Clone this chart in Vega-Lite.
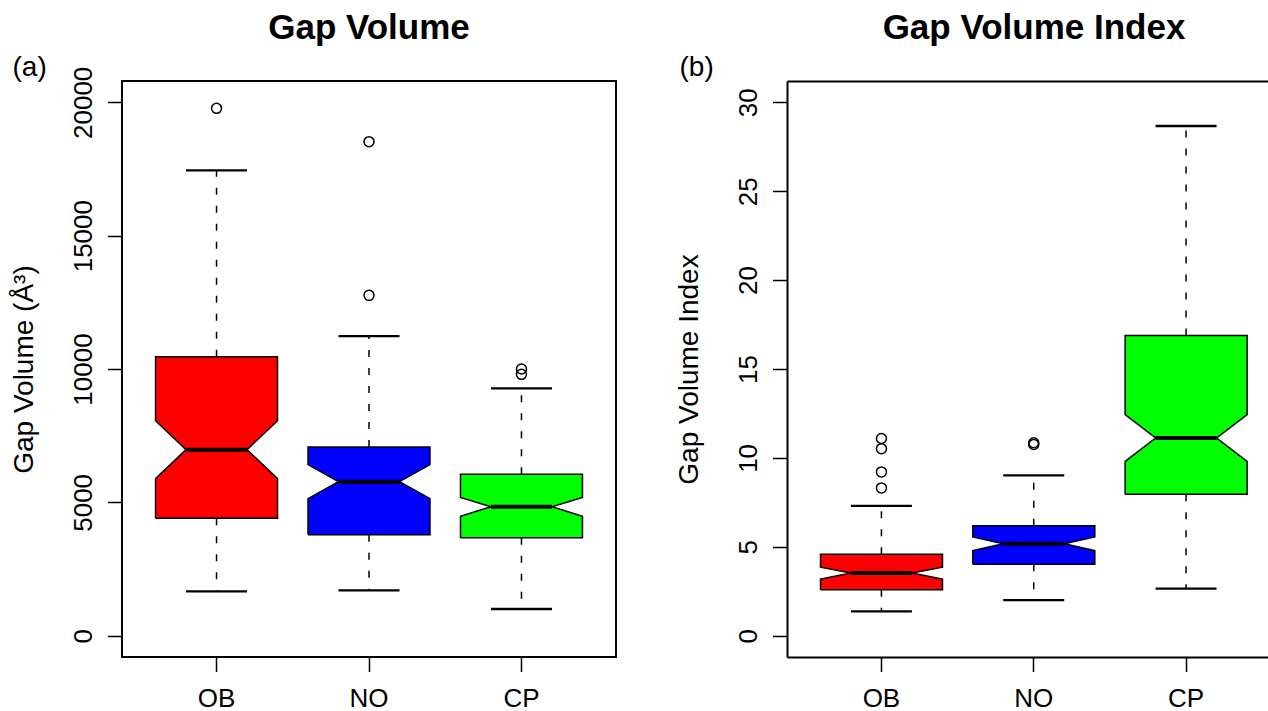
{
  "$schema": "https://vega.github.io/schema/vega-lite/v6.json",
  "padding": {"left": 9, "top": 10, "right": 0, "bottom": 0},
  "bounds": "flush",
  "spacing": 171,
  "config": {
    "font": "Liberation Sans",
    "view": {"stroke": "black", "strokeWidth": 2},
    "axis": {
      "labelFont": "Liberation Sans", "titleFont": "Liberation Sans",
      "labelColor": "black", "titleColor": "black", "tickColor": "black",
      "tickWidth": 1.5, "tickSize": 14.5, "grid": false, "domain": false,
      "labelFontSize": 26, "titleFontSize": 28, "titleFontWeight": "normal",
      "labelOverlap": false, "labelBound": false, "labelFlush": false
    }
  },
  "datasets": {
    "box": [
      {"p":"a","g":"OB","o":1,"e":"L","v":4399},{"p":"a","g":"OB","o":2,"e":"L","v":5887},{"p":"a","g":"OB","o":3,"e":"NL","v":6975},{"p":"a","g":"OB","o":4,"e":"L","v":8062},{"p":"a","g":"OB","o":5,"e":"L","v":10462},{"p":"a","g":"OB","o":6,"e":"R","v":10462},{"p":"a","g":"OB","o":7,"e":"R","v":8062},{"p":"a","g":"OB","o":8,"e":"NR","v":6975},{"p":"a","g":"OB","o":9,"e":"R","v":5887},{"p":"a","g":"OB","o":10,"e":"R","v":4399},{"p":"a","g":"OB","o":11,"e":"L","v":4399},
      {"p":"a","g":"NO","o":1,"e":"L","v":3787},{"p":"a","g":"NO","o":2,"e":"L","v":5137},{"p":"a","g":"NO","o":3,"e":"NL","v":5775},{"p":"a","g":"NO","o":4,"e":"L","v":6412},{"p":"a","g":"NO","o":5,"e":"L","v":7074},{"p":"a","g":"NO","o":6,"e":"R","v":7074},{"p":"a","g":"NO","o":7,"e":"R","v":6412},{"p":"a","g":"NO","o":8,"e":"NR","v":5775},{"p":"a","g":"NO","o":9,"e":"R","v":5137},{"p":"a","g":"NO","o":10,"e":"R","v":3787},{"p":"a","g":"NO","o":11,"e":"L","v":3787},
      {"p":"a","g":"CP","o":1,"e":"L","v":3674},{"p":"a","g":"CP","o":2,"e":"L","v":4474},{"p":"a","g":"CP","o":3,"e":"NL","v":4837},{"p":"a","g":"CP","o":4,"e":"L","v":5186},{"p":"a","g":"CP","o":5,"e":"L","v":6049},{"p":"a","g":"CP","o":6,"e":"R","v":6049},{"p":"a","g":"CP","o":7,"e":"R","v":5186},{"p":"a","g":"CP","o":8,"e":"NR","v":4837},{"p":"a","g":"CP","o":9,"e":"R","v":4474},{"p":"a","g":"CP","o":10,"e":"R","v":3674},{"p":"a","g":"CP","o":11,"e":"L","v":3674},
      {"p":"b","g":"OB","o":1,"e":"L","v":2.58},{"p":"b","g":"OB","o":2,"e":"L","v":3.18},{"p":"b","g":"OB","o":3,"e":"NL","v":3.52},{"p":"b","g":"OB","o":4,"e":"L","v":3.85},{"p":"b","g":"OB","o":5,"e":"L","v":4.58},{"p":"b","g":"OB","o":6,"e":"R","v":4.58},{"p":"b","g":"OB","o":7,"e":"R","v":3.85},{"p":"b","g":"OB","o":8,"e":"NR","v":3.52},{"p":"b","g":"OB","o":9,"e":"R","v":3.18},{"p":"b","g":"OB","o":10,"e":"R","v":2.58},{"p":"b","g":"OB","o":11,"e":"L","v":2.58},
      {"p":"b","g":"NO","o":1,"e":"L","v":4.02},{"p":"b","g":"NO","o":2,"e":"L","v":4.78},{"p":"b","g":"NO","o":3,"e":"NL","v":5.17},{"p":"b","g":"NO","o":4,"e":"L","v":5.55},{"p":"b","g":"NO","o":5,"e":"L","v":6.18},{"p":"b","g":"NO","o":6,"e":"R","v":6.18},{"p":"b","g":"NO","o":7,"e":"R","v":5.55},{"p":"b","g":"NO","o":8,"e":"NR","v":5.17},{"p":"b","g":"NO","o":9,"e":"R","v":4.78},{"p":"b","g":"NO","o":10,"e":"R","v":4.02},{"p":"b","g":"NO","o":11,"e":"L","v":4.02},
      {"p":"b","g":"CP","o":1,"e":"L","v":7.96},{"p":"b","g":"CP","o":2,"e":"L","v":9.8},{"p":"b","g":"CP","o":3,"e":"NL","v":11.12},{"p":"b","g":"CP","o":4,"e":"L","v":12.44},{"p":"b","g":"CP","o":5,"e":"L","v":16.89},{"p":"b","g":"CP","o":6,"e":"R","v":16.89},{"p":"b","g":"CP","o":7,"e":"R","v":12.44},{"p":"b","g":"CP","o":8,"e":"NR","v":11.12},{"p":"b","g":"CP","o":9,"e":"R","v":9.8},{"p":"b","g":"CP","o":10,"e":"R","v":7.96},{"p":"b","g":"CP","o":11,"e":"L","v":7.96}
    ],
    "whisk": [
      {"p":"a","g":"OB","v":4399,"v2":1661},{"p":"a","g":"OB","v":10462,"v2":17449},
      {"p":"a","g":"NO","v":3787,"v2":1699},{"p":"a","g":"NO","v":7074,"v2":11235},
      {"p":"a","g":"CP","v":3674,"v2":1000},{"p":"a","g":"CP","v":6049,"v2":9274},
      {"p":"b","g":"OB","v":2.58,"v2":1.37},{"p":"b","g":"OB","v":4.58,"v2":7.30},
      {"p":"b","g":"NO","v":4.02,"v2":2.0},{"p":"b","g":"NO","v":6.18,"v2":9.02},
      {"p":"b","g":"CP","v":7.96,"v2":2.65},{"p":"b","g":"CP","v":16.89,"v2":28.67}
    ],
    "cap": [
      {"p":"a","g":"OB","v":1661},{"p":"a","g":"OB","v":17449},
      {"p":"a","g":"NO","v":1699},{"p":"a","g":"NO","v":11235},
      {"p":"a","g":"CP","v":1000},{"p":"a","g":"CP","v":9274},
      {"p":"b","g":"OB","v":1.37},{"p":"b","g":"OB","v":7.30},
      {"p":"b","g":"NO","v":2.0},{"p":"b","g":"NO","v":9.02},
      {"p":"b","g":"CP","v":2.65},{"p":"b","g":"CP","v":28.67}
    ],
    "med": [
      {"p":"a","g":"OB","v":6975},{"p":"a","g":"NO","v":5775},{"p":"a","g":"CP","v":4837},
      {"p":"b","g":"OB","v":3.52},{"p":"b","g":"NO","v":5.17},{"p":"b","g":"CP","v":11.12}
    ],
    "out": [
      {"p":"a","g":"OB","v":19774},{"p":"a","g":"NO","v":12761},{"p":"a","g":"NO","v":18525},
      {"p":"a","g":"CP","v":9799},{"p":"a","g":"CP","v":9998},
      {"p":"b","g":"OB","v":8.31},{"p":"b","g":"OB","v":9.21},{"p":"b","g":"OB","v":10.52},{"p":"b","g":"OB","v":11.09},
      {"p":"b","g":"NO","v":10.75},{"p":"b","g":"NO","v":10.85}
    ]
  },
  "hconcat": [
    {
      "width": 494,
      "height": 576,
      "title": {"text": "Gap Volume", "fontSize": 35, "fontWeight": "bold", "font": "Liberation Sans", "color": "black", "anchor": "middle", "frame": "group", "offset": -21, "baseline": "alphabetic"},
      "resolve": {"axis": {"x": "independent", "y": "independent"}},
      "layer": [
        {
          "data": {"name": "box"},
          "transform": [{"filter": "datum.p == 'a'"}],
          "mark": {"type": "line", "stroke": "black", "strokeWidth": 1.5, "strokeJoin": "miter", "opacity": 1},
          "encoding": {
            "x": {"field": "g", "type": "nominal", "sort": ["OB", "NO", "CP"],
              "scale": {"paddingInner": 0.2, "paddingOuter": 0.22},
              "axis": {"title": "(a)", "titleX": -110, "titleY": -582, "titleAngle": 0, "titleAlign": "left", "titleBaseline": "alphabetic", "titleFontSize": 28,
                "labelAngle": 0, "labelPadding": 14, "labelBaseline": "top"}},
            "y": {"field": "v", "type": "quantitative",
              "scale": {"domain": [-800, 20800], "nice": false, "zero": false},
              "axis": {"title": "Gap Volume (Å³)", "values": [0, 5000, 10000, 15000, 20000], "format": "d",
                "labelAngle": 270, "labelAlign": "center", "labelBaseline": "alphabetic", "labelPadding": 16,
                "titleAngle": 270, "titleX": -90, "titleY": 288, "titleAlign": "center", "titleBaseline": "alphabetic"}},
            "xOffset": {"field": "e", "type": "nominal", "scale": {"type": "point", "padding": 0, "domain": ["L", "NL", "C", "NR", "R"]}},
            "order": {"field": "o", "type": "quantitative"},
            "fill": {"field": "g", "type": "nominal", "scale": {"domain": ["OB", "NO", "CP"], "range": ["#ff0000", "#0000ff", "#00ff00"]}, "legend": null}
          }
        },
        {
          "data": {"name": "whisk"},
          "transform": [{"filter": "datum.p == 'a'"}],
          "mark": {"type": "rule", "color": "black", "strokeWidth": 1.5, "strokeDash": [7, 11]},
          "encoding": {
            "x": {"field": "g", "type": "nominal", "sort": ["OB", "NO", "CP"], "axis": null},
            "y": {"field": "v", "type": "quantitative", "scale": {"domain": [-800, 20800], "nice": false, "zero": false}, "axis": null},
            "y2": {"field": "v2"}
          }
        },
        {
          "data": {"name": "cap"},
          "transform": [{"filter": "datum.p == 'a'"}],
          "mark": {"type": "tick", "color": "black", "size": 61, "thickness": 2.3, "opacity": 1},
          "encoding": {
            "x": {"field": "g", "type": "nominal", "sort": ["OB", "NO", "CP"], "axis": null},
            "y": {"field": "v", "type": "quantitative", "scale": {"domain": [-800, 20800], "nice": false, "zero": false}, "axis": null}
          }
        },
        {
          "data": {"name": "med"},
          "transform": [{"filter": "datum.p == 'a'"}],
          "mark": {"type": "tick", "color": "black", "size": 61, "thickness": 4, "opacity": 1},
          "encoding": {
            "x": {"field": "g", "type": "nominal", "sort": ["OB", "NO", "CP"], "axis": null},
            "y": {"field": "v", "type": "quantitative", "scale": {"domain": [-800, 20800], "nice": false, "zero": false}, "axis": null}
          }
        },
        {
          "data": {"name": "out"},
          "transform": [{"filter": "datum.p == 'a'"}],
          "mark": {"type": "point", "shape": "circle", "filled": false, "stroke": "black", "strokeWidth": 1.5, "size": 100, "opacity": 1},
          "encoding": {
            "x": {"field": "g", "type": "nominal", "sort": ["OB", "NO", "CP"], "axis": null},
            "y": {"field": "v", "type": "quantitative", "scale": {"domain": [-800, 20800], "nice": false, "zero": false}, "axis": null}
          }
        }
      ]
    },
    {
      "width": 481,
      "height": 576,
      "view": {"stroke": null},
      "title": {"text": "Gap Volume Index", "fontSize": 35, "fontWeight": "bold", "font": "Liberation Sans", "color": "black", "anchor": "middle", "frame": "group", "offset": -21, "baseline": "alphabetic", "dx": 6.5},
      "resolve": {"axis": {"x": "independent", "y": "independent"}},
      "layer": [
        {
          "data": {"name": "box"},
          "transform": [{"filter": "datum.p == 'b'"}],
          "mark": {"type": "line", "stroke": "black", "strokeWidth": 1.5, "strokeJoin": "miter", "opacity": 1},
          "encoding": {
            "x": {"field": "g", "type": "nominal", "sort": ["OB", "NO", "CP"],
              "scale": {"paddingInner": 0.2, "paddingOuter": 0.179, "align": 0.6145},
              "axis": {"title": "(b)", "titleX": -108, "titleY": -582, "titleAngle": 0, "titleAlign": "left", "titleBaseline": "alphabetic", "titleFontSize": 28,
                "labelAngle": 0, "labelPadding": 14, "labelBaseline": "top", "domain": true, "domainColor": "black", "domainWidth": 2}},
            "y": {"field": "v", "type": "quantitative",
              "scale": {"domain": [-1.2, 31.2], "nice": false, "zero": false},
              "axis": {"title": "Gap Volume Index", "values": [0, 5, 10, 15, 20, 25, 30], "format": "d",
                "domain": true, "domainColor": "black", "domainWidth": 2,
                "labelAngle": 270, "labelAlign": "center", "labelBaseline": "alphabetic", "labelPadding": 16,
                "titleAngle": 270, "titleX": -90, "titleY": 288, "titleAlign": "center", "titleBaseline": "alphabetic"}},
            "xOffset": {"field": "e", "type": "nominal", "scale": {"type": "point", "padding": 0, "domain": ["L", "NL", "C", "NR", "R"]}},
            "order": {"field": "o", "type": "quantitative"},
            "fill": {"field": "g", "type": "nominal", "scale": {"domain": ["OB", "NO", "CP"], "range": ["#ff0000", "#0000ff", "#00ff00"]}, "legend": null}
          }
        },
        {
          "data": {"name": "whisk"},
          "transform": [{"filter": "datum.p == 'b'"}],
          "mark": {"type": "rule", "color": "black", "strokeWidth": 1.5, "strokeDash": [7, 11]},
          "encoding": {
            "x": {"field": "g", "type": "nominal", "sort": ["OB", "NO", "CP"], "axis": null},
            "y": {"field": "v", "type": "quantitative", "scale": {"domain": [-1.2, 31.2], "nice": false, "zero": false}, "axis": null},
            "y2": {"field": "v2"}
          }
        },
        {
          "data": {"name": "cap"},
          "transform": [{"filter": "datum.p == 'b'"}],
          "mark": {"type": "tick", "color": "black", "size": 61, "thickness": 2.3, "opacity": 1},
          "encoding": {
            "x": {"field": "g", "type": "nominal", "sort": ["OB", "NO", "CP"],
              "axis": {"orient": "top", "labels": false, "ticks": false, "title": null, "domain": true, "domainColor": "black", "domainWidth": 2}},
            "y": {"field": "v", "type": "quantitative", "scale": {"domain": [-1.2, 31.2], "nice": false, "zero": false}, "axis": null}
          }
        },
        {
          "data": {"name": "med"},
          "transform": [{"filter": "datum.p == 'b'"}],
          "mark": {"type": "tick", "color": "black", "size": 61, "thickness": 4, "opacity": 1},
          "encoding": {
            "x": {"field": "g", "type": "nominal", "sort": ["OB", "NO", "CP"], "axis": null},
            "y": {"field": "v", "type": "quantitative", "scale": {"domain": [-1.2, 31.2], "nice": false, "zero": false}, "axis": null}
          }
        },
        {
          "data": {"name": "out"},
          "transform": [{"filter": "datum.p == 'b'"}],
          "mark": {"type": "point", "shape": "circle", "filled": false, "stroke": "black", "strokeWidth": 1.5, "size": 100, "opacity": 1},
          "encoding": {
            "x": {"field": "g", "type": "nominal", "sort": ["OB", "NO", "CP"], "axis": null},
            "y": {"field": "v", "type": "quantitative", "scale": {"domain": [-1.2, 31.2], "nice": false, "zero": false}, "axis": null}
          }
        }
      ]
    }
  ]
}
